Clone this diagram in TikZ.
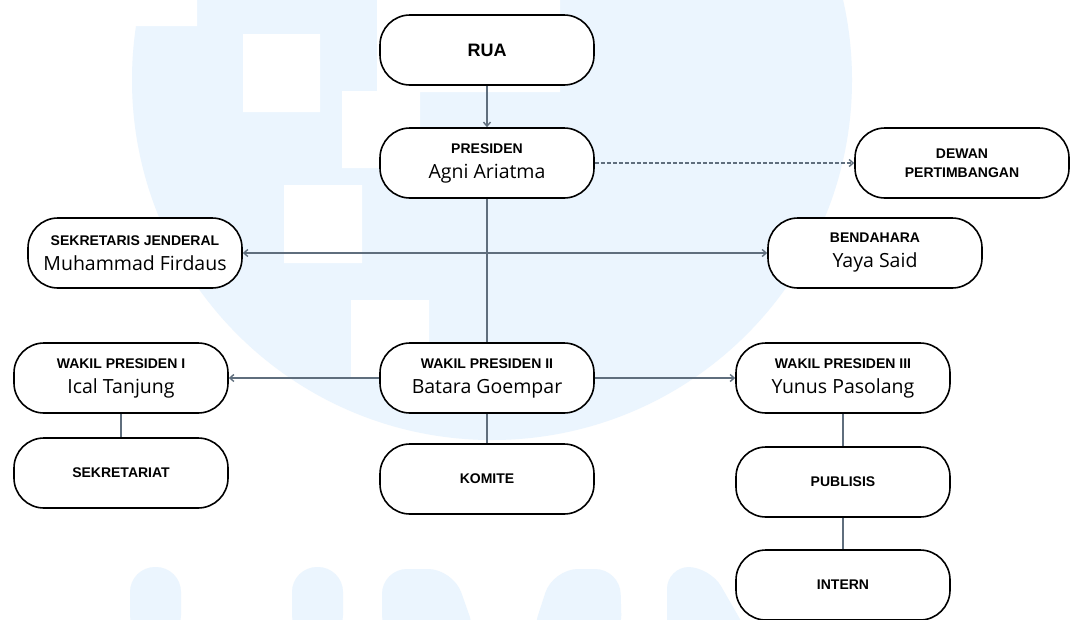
\documentclass[tikz,border=0pt]{standalone}
\usepackage{fontspec}
\setmainfont{Open Sans}
\newfontfamily\headfont{Liberation Sans}
\usetikzlibrary{arrows.meta}
\definecolor{wmblue}{HTML}{EBF5FE}
\definecolor{linkgray}{HTML}{5F6E7D}
\tikzset{unit/.style={rectangle,rounded corners=30pt,draw=black,line width=1.6pt,fill=white,
		minimum width=214pt,minimum height=70pt,inner sep=0pt,align=center,
		font=\fontsize{19.5}{25}\selectfont},
	link/.style={draw=linkgray,line width=1.4pt},
	tip/.style={-{Straight Barb[length=4pt,width=7pt]}}}
\newcommand{\hd}[2][14]{{\headfont\bfseries\fontsize{#1}{#1}\selectfont #2}}
\newcommand{\unitbox}[4][]{\node[unit,#1] at (#2) (#3) {#4}}

\begin{document}
\begin{tikzpicture}[x=1pt,y=-1pt]
		\useasboundingbox (0,0) rectangle (1070,619);
		\clip (0,0) rectangle (1070,619);
		\fill[white] (0,0) rectangle (1070,619);
		% watermark
		\fill[wmblue] (492,80) circle[radius=360pt];
		\fill[white] (136,0) rectangle (197,26)
		(377,0) rectangle (560,92)
		(243,34) rectangle (320,112)
		(342,91) rectangle (420,168)
		(284,185) rectangle (362,263)
		(351,300) rectangle (429,378);
		\fill[wmblue,rounded corners=25pt] (130,640) -- (130,567) -- (181,567) -- (181,640) -- cycle;
		\fill[wmblue,rounded corners=25pt] (292,640) -- (292,567) -- (343,567) -- (343,640) -- cycle;
		\fill[wmblue,rounded corners=25pt] (382,640) -- (382,569) -- (453,569) -- (478,640) -- cycle;
		\fill[wmblue,rounded corners=25pt] (530,640) -- (553,569) -- (620,569) -- (622,640) -- cycle;
		\fill[wmblue,rounded corners=22pt] (667,640) -- (667,567) -- (710,567) -- (752,640) -- cycle;
		
		\unitbox{487,50}{rua}{\hd[18]{RUA}};
		\unitbox{487,163}{presiden}{\hd{PRESIDEN}\\Agni Ariatma};
		\unitbox{962,163}{dewan}{\hd{DEWAN}\\[-6pt]\hd{PERTIMBANGAN}};
		\unitbox{135,253}{sekjen}{\hd{SEKRETARIS JENDERAL}\\Muhammad Firdaus};
		\unitbox{875,253}{bendahara}{\hd{BENDAHARA}\\Yaya Said};
		\unitbox{121,378}{wpone}{\hd{WAKIL PRESIDEN I}\\Ical Tanjung};
		\unitbox{487,378}{wptwo}{\hd{WAKIL PRESIDEN II}\\Batara Goempar};
		\unitbox{843,378}{wpthree}{\hd{WAKIL PRESIDEN III}\\Yunus Pasolang};
		\unitbox{121,473}{sekretariat}{\hd{SEKRETARIAT}};
		\unitbox{487,479}{komite}{\hd{KOMITE}};
		\unitbox{843,482}{publisis}{\hd{PUBLISIS}};
		\unitbox{843,585}{intern}{\hd{INTERN}};
		
		\draw[link,tip] (rua) -- (presiden);
		\draw[link,tip,dash pattern=on 4pt off 2pt] (presiden) -- (dewan);
		\draw[link] (presiden) -- (wptwo);
		\draw[link,{Straight Barb[length=4pt,width=7pt]}-{Straight Barb[length=4pt,width=7pt]}] (sekjen) -- (bendahara);
		\draw[link,tip] (wptwo) -- (wpone);
		\draw[link,tip] (wptwo) -- (wpthree);
		\draw[link] (wpone) -- (sekretariat)
		(wptwo) -- (komite)
		(wpthree) -- (publisis)
		(publisis) -- (intern);
	\end{tikzpicture}
\end{document}
